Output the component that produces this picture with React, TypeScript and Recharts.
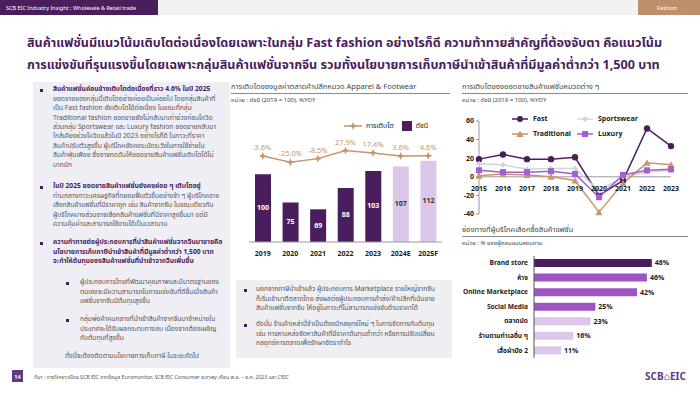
import {
  ComposedChart,
  LineChart,
  BarChart,
  Bar,
  Line,
  Cell,
  XAxis,
  YAxis,
  LabelList,
  Legend,
  ReferenceLine,
} from "recharts";

// Apparel & Footwear retail value index (2019 = 100) and %YoY
const indexYears = ["2019", "2020", "2021", "2022", "2023", "2024E", "2025F"];
const indexValues = [100, 75, 69, 88, 103, 107, 112];
const growthValues = [3.6, -25.0, -8.5, 27.9, 17.4, 3.6, 4.6];

// Sales growth by fashion segment (%YoY)
const segmentYears = ["2015", "2016", "2017", "2018", "2019", "2020", "2021", "2022", "2023"];
const fastValues = [19, 24, 19, 19, 21, -20, -4, 52, 33];
const sportswearValues = [14, 13, 8, 9, 9, -15, 0, 5, 7];
const traditionalValues = [1, 3, 2, 0, -4, -38, -7, 15, 13];
const luxuryValues = [7, 5, 5, 6, 3, -22, 2, 7, 8];

// Purchase channels (% of respondents)
const channelNames = [
  "Brand store",
  "ห้าง",
  "Online Marketplace",
  "Social Media",
  "ตลาดนัด",
  "ร้านตามทำเลอื่น ๆ",
  "เสื้อผ้ามือ 2",
];
const channelShares = [48, 46, 42, 25, 23, 16, 11];

const PURPLE = "#4a1d5c";
const MID_PURPLE = "#9c55c2";
const LAVENDER = "#dcc6ea";
const TAN = "#c8956b";
const GREY_LINE = "#d4d4d4";
const FONT = "'Noto Sans Thai', 'Noto Sans', 'DejaVu Sans', sans-serif";

const indexData = indexYears.map((year, i) => ({
  year,
  index: indexValues[i],
  growth: growthValues[i],
}));

const segmentData = segmentYears.map((year, i) => ({
  year,
  fast: fastValues[i],
  sportswear: sportswearValues[i],
  traditional: traditionalValues[i],
  luxury: luxuryValues[i],
}));

const channelData = channelNames.map((name, i) => ({ name, share: channelShares[i] }));

const isForecast = (year: string) => /[EF]$/.test(year);
const channelColor = (i: number) => (i === 0 ? PURPLE : i <= 3 ? MID_PURPLE : LAVENDER);

const abs = (left: number, top: number, extra: any = {}) => ({
  position: "absolute" as const,
  left,
  top,
  ...extra,
});

// 4-point star marker used on the growth line
const StarDot = (props: any) => {
  const { cx, cy } = props;
  if (cx == null || cy == null) return null;
  const r = 4;
  const q = 1.2;
  const pts = [
    [cx, cy - r],
    [cx + q, cy - q],
    [cx + r, cy],
    [cx + q, cy + q],
    [cx, cy + r],
    [cx - q, cy + q],
    [cx - r, cy],
    [cx - q, cy - q],
  ]
    .map((p) => p.join(","))
    .join(" ");
  return <polygon points={pts} fill={TAN} />;
};

const IndexBarLabel = (props: any) => {
  const { x, y, width, height, value, index } = props;
  const light = isForecast(indexYears[index] || "");
  return (
    <text
      x={x + width / 2}
      y={y + height / 2}
      textAnchor="middle"
      dominantBaseline="middle"
      fontSize={7}
      fontWeight={700}
      fill={light ? "#333" : "#fff"}
      fontFamily={FONT}
    >
      {value}
    </text>
  );
};

const IndexLegend = () => (
  <div style={{ display: "flex", alignItems: "center", fontSize: 7, color: "#222", fontFamily: FONT }}>
    <svg width={18} height={8}>
      <line x1={0} y1={4} x2={18} y2={4} stroke={TAN} strokeWidth={1.5} />
      <StarDot cx={9} cy={4} />
    </svg>
    <span style={{ marginLeft: 4, marginRight: 8 }}>การเติบโต</span>
    <span style={{ width: 10, height: 10, background: PURPLE, display: "inline-block" }} />
    <span style={{ marginLeft: 4 }}>ดัชนี</span>
  </div>
);

const SegmentMarker = ({ kind, color }: { kind: string; color: string }) => {
  if (kind === "circle") return <circle cx={8} cy={4} r={3} fill={color} />;
  if (kind === "diamond") return <polygon points="8,1 11,4 8,7 5,4" fill={color} />;
  if (kind === "triangle") return <polygon points="8,0.5 11.5,7 4.5,7" fill={color} />;
  return <rect x={5} y={1} width={6} height={6} fill={color} />;
};

const segmentSeries = [
  { key: "fast", label: "Fast", color: PURPLE, kind: "circle" },
  { key: "sportswear", label: "Sportswear", color: GREY_LINE, kind: "diamond" },
  { key: "traditional", label: "Traditional", color: TAN, kind: "triangle" },
  { key: "luxury", label: "Luxury", color: "#a35fd0", kind: "square" },
];

const SegmentLegend = () => (
  <div
    style={{
      display: "grid",
      gridTemplateColumns: "65px 70px",
      rowGap: 6,
      fontSize: 7,
      fontWeight: 700,
      color: "#222",
      fontFamily: FONT,
    }}
  >
    {segmentSeries.map((s) => (
      <div key={s.key} style={{ display: "flex", alignItems: "center", height: 9 }}>
        <svg width={16} height={8}>
          <line x1={0} y1={4} x2={16} y2={4} stroke={s.color} strokeWidth={1.5} />
          <SegmentMarker kind={s.kind} color={s.color} />
        </svg>
        <span style={{ marginLeft: 5 }}>{s.label}</span>
      </div>
    ))}
  </div>
);

const segmentDot = (kind: string, color: string) => (props: any) => {
  const { cx, cy, index } = props;
  if (cx == null || cy == null) return <g key={index} />;
  if (kind === "circle") return <circle key={index} cx={cx} cy={cy} r={3.2} fill={color} />;
  if (kind === "diamond")
    return <polygon key={index} points={`${cx},${cy - 3} ${cx + 3},${cy} ${cx},${cy + 3} ${cx - 3},${cy}`} fill={color} />;
  if (kind === "triangle")
    return <polygon key={index} points={`${cx},${cy - 3.5} ${cx + 3.5},${cy + 3} ${cx - 3.5},${cy + 3}`} fill={color} />;
  return <rect key={index} x={cx - 3} y={cy - 3} width={6} height={6} fill={color} />;
};

// year labels sit just under the zero line, like the original
const YearOnZero = (props: any) => {
  const { x, y, index } = props;
  if (x == null || y == null) return null;
  return (
    <text
      key={index}
      x={x}
      y={y + 12}
      textAnchor="middle"
      dominantBaseline="middle"
      fontSize={7}
      fontWeight={700}
      fill="#222"
      fontFamily={FONT}
    >
      {segmentYears[index]}
    </text>
  );
};

const ChannelTick = (props: any) => {
  const { x, y, payload } = props;
  return (
    <text
      x={x}
      y={y}
      textAnchor="end"
      dominantBaseline="middle"
      fontSize={6.6}
      fontWeight={700}
      fill="#222"
      fontFamily={FONT}
    >
      {payload.value}
    </text>
  );
};

const SectionTitle = ({ left, top, width, title, unit }: any) => (
  <>
    <div style={abs(left, top, { fontSize: 7.5, color: "#444", fontFamily: FONT, whiteSpace: "nowrap" })}>{title}</div>
    <div style={abs(left, top + 12, { width, height: 1, background: "#8a8a8a" })} />
    <div style={abs(left, top + 15, { fontSize: 6, color: "#444", fontFamily: FONT, whiteSpace: "nowrap" })}>{unit}</div>
  </>
);

const LINE_H = 9.4;
const bodyText = { fontSize: 6.7, lineHeight: `${LINE_H}px`, color: "#555", fontFamily: FONT, whiteSpace: "nowrap" as const };
const headText = { ...bodyText, color: PURPLE, fontWeight: 700 };

const Bullet = ({ left, top }: { left: number; top: number }) => (
  <div style={abs(left, top - 1.5, { width: 3, height: 3, background: PURPLE })} />
);

const Lines = ({ lines }: { lines: string[] }) => (
  <>
    {lines.map((l, i) => (
      <div key={i}>{l}</div>
    ))}
  </>
);

export default function App() {
  return (
    <div
      style={{
        position: "absolute",
        left: 0,
        top: 0,
        width: 700,
        height: 394,
        background: "#fff",
        overflow: "hidden",
        fontFamily: FONT,
      }}
    >
      {/* header strip */}
      <div style={abs(0, 0, { width: 700, height: 15, background: "#f1f1f1" })} />
      <div style={abs(0, 0, { width: 158, height: 15, background: PURPLE })} />
      <div style={abs(6, 3.5, { fontSize: 5.5, color: "#fff", whiteSpace: "nowrap" })}>
        SCB EIC Industry Insight : Wholesale &amp; Retail trade
      </div>
      <div style={abs(638, 0, { width: 62, height: 15, background: "#bf8f6c" })} />
      <div style={abs(657, 3.5, { fontSize: 5.5, color: "#fff" })}>Fashion</div>

      {/* headline */}
      <div
        style={abs(27, 33, {
          fontSize: 12.6,
          lineHeight: "22px",
          fontWeight: 700,
          color: PURPLE,
          whiteSpace: "nowrap",
        })}
      >
        <div>
          สินค้าแฟชั่นมีแนวโน้มเติบโตต่อเนื่องโดยเฉพาะในกลุ่ม Fast fashion อย่างไรก็ดี ความท้าทายสำคัญที่ต้องจับตา คือแนวโน้ม
        </div>
        <div>
          การแข่งขันที่รุนแรงขึ้นโดยเฉพาะกลุ่มสินค้าแฟชั่นจากจีน รวมทั้งนโยบายการเก็บภาษีนำเข้าสินค้าที่มีมูลค่าต่ำกว่า 1,500 บาท
        </div>
      </div>

      {/* left commentary box */}
      <div style={abs(33, 82, { width: 197, height: 286, background: "#efeef5" })} />
      <Bullet left={40} top={90} />
      <div style={abs(53, 85.3)}>
        <div style={headText}>สินค้าแฟชั่นค่อนข้างเติบโตต่อเนื่องที่ราว 4.6% ในปี 2025</div>
        <div style={bodyText}>
          <Lines
            lines={[
              "ยอดขายของกลุ่มนี้เติบโตอย่างค่อยเป็นค่อยไป โดยกลุ่มสินค้าที่",
              "เป็น Fast fashion ยังเติบโตได้ต่อเนื่อง ในขณะที่กลุ่ม",
              "Traditional fashion ยอดขายยังไม่กลับมาเท่าช่วงก่อนโควิด",
              "ส่วนกลุ่ม Sportswear และ Luxury fashion ยอดขายกลับมา",
              "ใกล้เคียงช่วงโควิดแล้วในปี 2023 อย่างไรก็ดี ในภาวะที่ราคา",
              "สินค้าปรับตัวสูงขึ้น ผู้บริโภคยังคงระมัดระวังในการใช้จ่ายใน",
              "สินค้าฟุ่มเฟือย ซึ่งอาจกดดันให้ยอดขายสินค้าแฟชั่นเติบโตได้ไม่",
              "มากนัก",
            ]}
          />
        </div>
      </div>
      <Bullet left={40} top={187} />
      <div style={abs(53, 182.3)}>
        <div style={headText}>ในปี 2025 ยอดขายสินค้าแฟชั่นยังคงค่อย ๆ เติบโตอยู่</div>
        <div style={bodyText}>
          <Lines
            lines={[
              "ท่ามกลางภาวะเศรษฐกิจที่ทยอยฟื้นตัวขึ้นอย่างช้า ๆ ผู้บริโภคอาจ",
              "เลือกสินค้าแฟชั่นที่มีราคาถูก เช่น สินค้าจากจีน ในขณะเดียวกัน",
              "ผู้บริโภคบางส่วนอาจเลือกสินค้าแฟชั่นที่มีราคาสูงขึ้นมา แต่มี",
              "ความคุ้มค่าและสามารถใช้งานได้เป็นเวลานาน",
            ]}
          />
        </div>
      </div>
      <Bullet left={40} top={243} />
      <div style={abs(53, 238.3, headText)}>
        <Lines
          lines={[
            "ความท้าทายต่อผู้ประกอบการที่นำสินค้าแฟชั่นจากจีนมาขายคือ",
            "นโยบายการเก็บภาษีนำเข้าสินค้าที่มีมูลค่าต่ำกว่า 1,500 บาท",
            "จะทำให้ต้นทุนของสินค้าแฟชั่นที่นำเข้าจากจีนเพิ่มขึ้น",
          ]}
        />
      </div>
      <Bullet left={66} top={283} />
      <div style={abs(80, 278.3, bodyText)}>
        <Lines
          lines={[
            "ผู้ประกอบการไทยที่พัฒนาคุณภาพและมีมาตรฐานของ",
            "ตนเองจะมีความสามารถในการแข่งขันที่ดีขึ้นเมื่อสินค้า",
            "แฟชั่นจากจีนมีต้นทุนสูงขึ้น",
          ]}
        />
      </div>
      <Bullet left={66} top={320} />
      <div style={abs(80, 315.3, bodyText)}>
        <Lines
          lines={[
            "กลุ่มพ่อค้าคนกลางที่นำเข้าสินค้าจากจีนมาจำหน่ายใน",
            "ประเทศจะได้รับผลกระทบทางลบ เนื่องจากต้องเผชิญ",
            "กับต้นทุนที่สูงขึ้น",
          ]}
        />
      </div>
      <div style={abs(65, 352.3, bodyText)}>ทั้งนี้จะต้องติดตามนโยบายการเก็บภาษี ในระยะถัดไป</div>

      {/* chart 1: retail value index */}
      <SectionTitle
        left={231}
        top={81}
        width={219}
        title="การเติบโตของมูลค่าตลาดค้าปลีกหมวด Apparel & Footwear"
        unit="หน่วย : ดัชนี (2019 = 100), %YOY"
      />
      <div style={abs(233, 110)}>
        <ComposedChart
          width={217}
          height={148}
          data={indexData}
          margin={{ top: 8, right: 8, bottom: 0, left: 16 }}
        >
          <XAxis
            dataKey="year"
            height={16}
            tickLine={false}
            axisLine={{ stroke: "#9a9a9a" }}
            tick={{ fontSize: 7, fontWeight: 700, fill: "#222", fontFamily: FONT }}
            tickMargin={3}
            interval={0}
          />
          <YAxis yAxisId="idx" domain={[40, 150]} allowDataOverflow hide />
          <YAxis yAxisId="g" orientation="right" domain={[-385, 175]} allowDataOverflow hide />
          <Legend
            layout="horizontal"
            verticalAlign="middle"
            align="center"
            content={<IndexLegend />}
            wrapperStyle={{ left: 111, top: 11, width: 110 }}
          />
          <Bar yAxisId="idx" dataKey="index" barSize={16} isAnimationActive={false}>
            {indexData.map((d) => (
              <Cell key={d.year} fill={isForecast(d.year) ? LAVENDER : PURPLE} />
            ))}
            <LabelList dataKey="index" content={<IndexBarLabel />} />
          </Bar>
          <Line
            yAxisId="g"
            dataKey="growth"
            stroke={TAN}
            strokeWidth={1.5}
            dot={<StarDot />}
            activeDot={false}
            isAnimationActive={false}
          >
            <LabelList
              dataKey="growth"
              position="top"
              offset={6}
              formatter={(v: any) => `${Number(v).toFixed(1)}%`}
              style={{ fontSize: 7.5, fill: TAN, fontFamily: FONT }}
            />
          </Line>
        </ComposedChart>
      </div>

      {/* chart 2: segment growth */}
      <SectionTitle
        left={462}
        top={81}
        width={226}
        title="การเติบโตของยอดขายสินค้าแฟชั่นหมวดต่าง ๆ"
        unit="หน่วย : ดัชนี (2019 = 100), %YOY"
      />
      <div style={abs(455, 116)}>
        <LineChart
          width={236}
          height={104}
          data={segmentData}
          margin={{ top: 5, right: 20, bottom: 6, left: 0 }}
        >
          <XAxis dataKey="year" hide />
          <YAxis
            domain={[-40, 60]}
            ticks={[-40, -20, 0, 20, 40, 60]}
            interval={0}
            width={24}
            tickSize={3}
            tickMargin={2}
            axisLine={{ stroke: "#9a9a9a" }}
            tickLine={{ stroke: "#9a9a9a" }}
            tick={{ fontSize: 7, fontWeight: 700, fill: "#222", fontFamily: FONT }}
          />
          <ReferenceLine y={0} stroke="#9a9a9a" />
          <Legend
            layout="horizontal"
            verticalAlign="middle"
            align="center"
            content={<SegmentLegend />}
            wrapperStyle={{ left: 57, top: -2, width: 150 }}
          />
          <Line
            dataKey={() => 0}
            stroke="none"
            dot={false}
            activeDot={false}
            legendType="none"
            label={<YearOnZero />}
            isAnimationActive={false}
          />
          {segmentSeries.map((s) => (
            <Line
              key={s.key}
              dataKey={s.key}
              stroke={s.color}
              strokeWidth={1.5}
              dot={segmentDot(s.kind, s.color)}
              activeDot={false}
              isAnimationActive={false}
            />
          ))}
        </LineChart>
      </div>

      {/* chart 3: purchase channels */}
      <SectionTitle
        left={462}
        top={224}
        width={226}
        title="ช่องทางที่ผู้บริโภคเลือกซื้อสินค้าแฟชั่น"
        unit="หน่วย : % ของผู้ตอบแบบสอบถาม"
      />
      <div style={abs(455, 256)}>
        <BarChart
          width={235}
          height={102}
          data={channelData}
          layout="vertical"
          margin={{ top: 0, right: 21, bottom: 0, left: 0 }}
        >
          <XAxis type="number" domain={[0, 55]} hide />
          <YAxis
            type="category"
            dataKey="name"
            width={79}
            tickLine={false}
            tickSize={4}
            tickMargin={2}
            axisLine={{ stroke: "#555" }}
            tick={<ChannelTick />}
            interval={0}
          />
          <Bar dataKey="share" barSize={8} isAnimationActive={false}>
            {channelData.map((d, i) => (
              <Cell key={d.name} fill={channelColor(i)} />
            ))}
            <LabelList
              dataKey="share"
              position="right"
              offset={3}
              formatter={(v: any) => `${v}%`}
              style={{ fontSize: 7, fontWeight: 700, fill: "#222", fontFamily: FONT }}
            />
          </Bar>
        </BarChart>
      </div>

      {/* middle commentary box */}
      <div style={abs(236, 280, { width: 216, height: 78, background: "#efeef3" })} />
      <Bullet left={244} top={290} />
      <div style={abs(256, 285.4, bodyText)}>
        <Lines
          lines={[
            "นอกจากภาษีนำเข้าแล้ว ผู้ประกอบการ Marketplace รายใหญ่จากจีน",
            "ก็เริ่มเข้ามาตีตลาดไทย ส่งผลต่อผู้ประกอบการค้าส่ง/ค้าปลีกที่เน้นขาย",
            "สินค้าแฟชั่นจากจีน ให้อยู่ในภาวะที่ไม่สามารถแข่งขันด้านราคาได้",
          ]}
        />
      </div>
      <Bullet left={244} top={325} />
      <div style={abs(256, 320.4, bodyText)}>
        <Lines
          lines={[
            "ดังนั้น ร้านค้าเหล่านี้จำเป็นต้องมีกลยุทธ์ใหม่ ๆ ในการจัดการกับต้นทุน",
            "เช่น การหาแหล่งจัดหาสินค้าที่มีราคาต้นทุนต่ำกว่า หรือการปรับเปลี่ยน",
            "กลยุทธ์การตลาดเพื่อรักษาอัตรากำไร",
          ]}
        />
      </div>

      {/* footer */}
      <div style={abs(12, 370, { width: 11, height: 12, background: "#5b3a86" })} />
      <div style={abs(12, 372.5, { width: 11, fontSize: 5.5, color: "#fff", textAlign: "center", fontWeight: 700 })}>14</div>
      <div style={abs(34, 372.5, { fontSize: 5.2, color: "#555", whiteSpace: "nowrap" })}>
        ที่มา : การวิเคราะห์โดย SCB EIC จากข้อมูล Euromonitor, SCB EIC Consumer survey  เดือน พ.ย. – ธ.ค. 2023 และ CEIC
      </div>
      <div style={abs(645, 369, { fontSize: 10, fontWeight: 700, color: "#5b3a86", whiteSpace: "nowrap" })}>
        SCB<span style={{ fontWeight: 400, color: "#8a7aa8" }}>⌂</span>EIC
      </div>
    </div>
  );
}
